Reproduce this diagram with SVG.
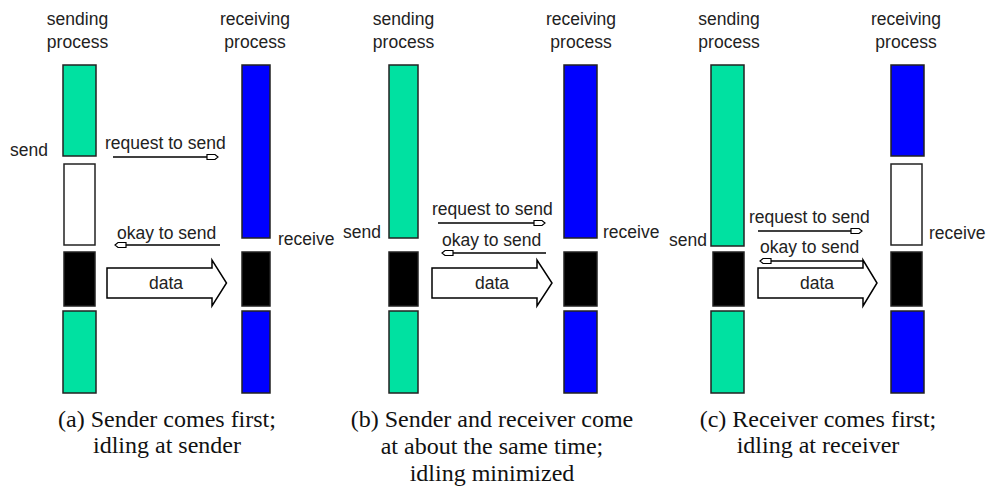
<svg xmlns="http://www.w3.org/2000/svg" width="988" height="488" viewBox="0 0 988 488">
<defs>
<style>
.lbl{font-family:"Liberation Sans",Arial,sans-serif;font-size:17.5px;fill:#222}
.mid{text-anchor:middle}
.cap{font-family:"Liberation Serif","Times New Roman",serif;font-size:24px;fill:#111;text-anchor:middle}
.g{fill:#00E1A1;stroke:#222;stroke-width:1.5}
.b{fill:#0000FF;stroke:#222;stroke-width:1.5}
.k{fill:#000;stroke:#222;stroke-width:1.5}
.w{fill:#fff;stroke:#222;stroke-width:1.5}
.ln{stroke:#000;stroke-width:1.5;fill:none}
.blk{fill:#fff;stroke:#000;stroke-width:1.5;stroke-linejoin:miter}
</style>
<marker id="ah" markerUnits="userSpaceOnUse" markerWidth="14" markerHeight="10" viewBox="-1 -4 14 8" refX="11" refY="0" orient="auto">
<path d="M0,-2.5 H8 L11,0 L8,2.5 H0 Z" fill="#fff" stroke="#000" stroke-width="1.2"/>
</marker>
</defs>
<rect width="988" height="488" fill="#fff"/>

<!-- Panel (a) -->
<g id="a-sender">
<text class="lbl mid" x="77.5" y="25">sending</text>
<text class="lbl mid" x="77.5" y="48">process</text>
<rect class="g" x="63" y="65" width="33" height="91"/>
<rect class="w" x="64" y="164" width="31" height="81"/>
<rect class="k" x="64" y="252" width="31" height="54"/>
<rect class="g" x="63" y="311" width="33" height="82"/>
<text class="lbl" x="10" y="156">send</text>
</g>
<g id="a-receiver">
<text class="lbl mid" x="255" y="25">receiving</text>
<text class="lbl mid" x="255" y="48">process</text>
<rect class="b" x="242" y="65" width="28" height="173"/>
<rect class="k" x="242" y="252" width="28" height="54"/>
<rect class="b" x="242" y="311" width="28" height="82"/>
<text class="lbl" x="278" y="245">receive</text>
</g>
<g id="a-caption">
<text class="cap" x="167" y="427">(a) Sender comes first;</text>
<text class="cap" x="167" y="453">idling at sender</text>
</g>

<!-- Panel (b) -->
<g id="b-sender">
<text class="lbl mid" x="403.5" y="25">sending</text>
<text class="lbl mid" x="403.5" y="48">process</text>
<rect class="g" x="389" y="65" width="29" height="173"/>
<rect class="k" x="389" y="252" width="29" height="54"/>
<rect class="g" x="389" y="311" width="29" height="82"/>
<text class="lbl" x="343" y="238">send</text>
</g>
<g id="b-receiver">
<text class="lbl mid" x="581" y="25">receiving</text>
<text class="lbl mid" x="581" y="48">process</text>
<rect class="b" x="564" y="65" width="33" height="173"/>
<rect class="k" x="564" y="252" width="33" height="54"/>
<rect class="b" x="564" y="311" width="33" height="82"/>
<text class="lbl" x="603" y="238">receive</text>
</g>
<g id="b-caption">
<text class="cap" x="492" y="427">(b) Sender and receiver come</text>
<text class="cap" x="492" y="454">at about the same time;</text>
<text class="cap" x="492" y="481">idling minimized</text>
</g>

<!-- Panel (c) -->
<g id="c-sender">
<text class="lbl mid" x="729" y="25">sending</text>
<text class="lbl mid" x="729" y="48">process</text>
<rect class="g" x="711" y="65" width="33" height="181"/>
<rect class="k" x="713" y="252" width="31" height="54"/>
<rect class="g" x="711" y="311" width="33" height="82"/>
<text class="lbl" x="669" y="246">send</text>
</g>
<g id="c-receiver">
<text class="lbl mid" x="906" y="25">receiving</text>
<text class="lbl mid" x="906" y="48">process</text>
<rect class="b" x="891" y="65" width="33" height="91"/>
<rect class="w" x="891" y="164" width="31" height="81"/>
<rect class="k" x="891" y="252" width="31" height="54"/>
<rect class="b" x="891" y="311" width="33" height="82"/>
<text class="lbl" x="929" y="239">receive</text>
</g>
<g id="c-caption">
<text class="cap" x="818" y="427">(c) Receiver comes first;</text>
<text class="cap" x="818" y="453">idling at receiver</text>
</g>

<!-- Connectors -->
<g id="connectors">
<g id="a-msgs">
<text class="lbl" x="105" y="149">request to send</text>
<line class="ln" x1="113" y1="157" x2="218" y2="157" marker-end="url(#ah)"/>
<text class="lbl" x="117" y="239">okay to send</text>
<line class="ln" x1="220" y1="245" x2="115" y2="245" marker-end="url(#ah)"/>
<path class="blk" d="M107,268 H212 V260 L226.5,283 L212,306 V298 H107 Z"/>
<text class="lbl mid" x="166" y="289">data</text>
</g>
<g id="b-msgs">
<text class="lbl" x="432" y="215">request to send</text>
<line class="ln" x1="438" y1="223" x2="545" y2="223" marker-end="url(#ah)"/>
<text class="lbl" x="442" y="246">okay to send</text>
<line class="ln" x1="546" y1="253" x2="442" y2="253" marker-end="url(#ah)"/>
<path class="blk" d="M432,268 H537 V260 L552,283 L537,306 V298 H432 Z"/>
<text class="lbl mid" x="492" y="289">data</text>
</g>
<g id="c-msgs">
<text class="lbl" x="749" y="223">request to send</text>
<line class="ln" x1="758" y1="231" x2="862" y2="231" marker-end="url(#ah)"/>
<text class="lbl" x="760" y="253">okay to send</text>
<path class="blk" d="M758,268 H863 V260 L877,283 L863,306 V298 H758 Z"/>
<line class="ln" x1="863" y1="261" x2="760" y2="261" marker-end="url(#ah)"/>
<text class="lbl mid" x="817" y="289">data</text>
</g>
</g>
</svg>
